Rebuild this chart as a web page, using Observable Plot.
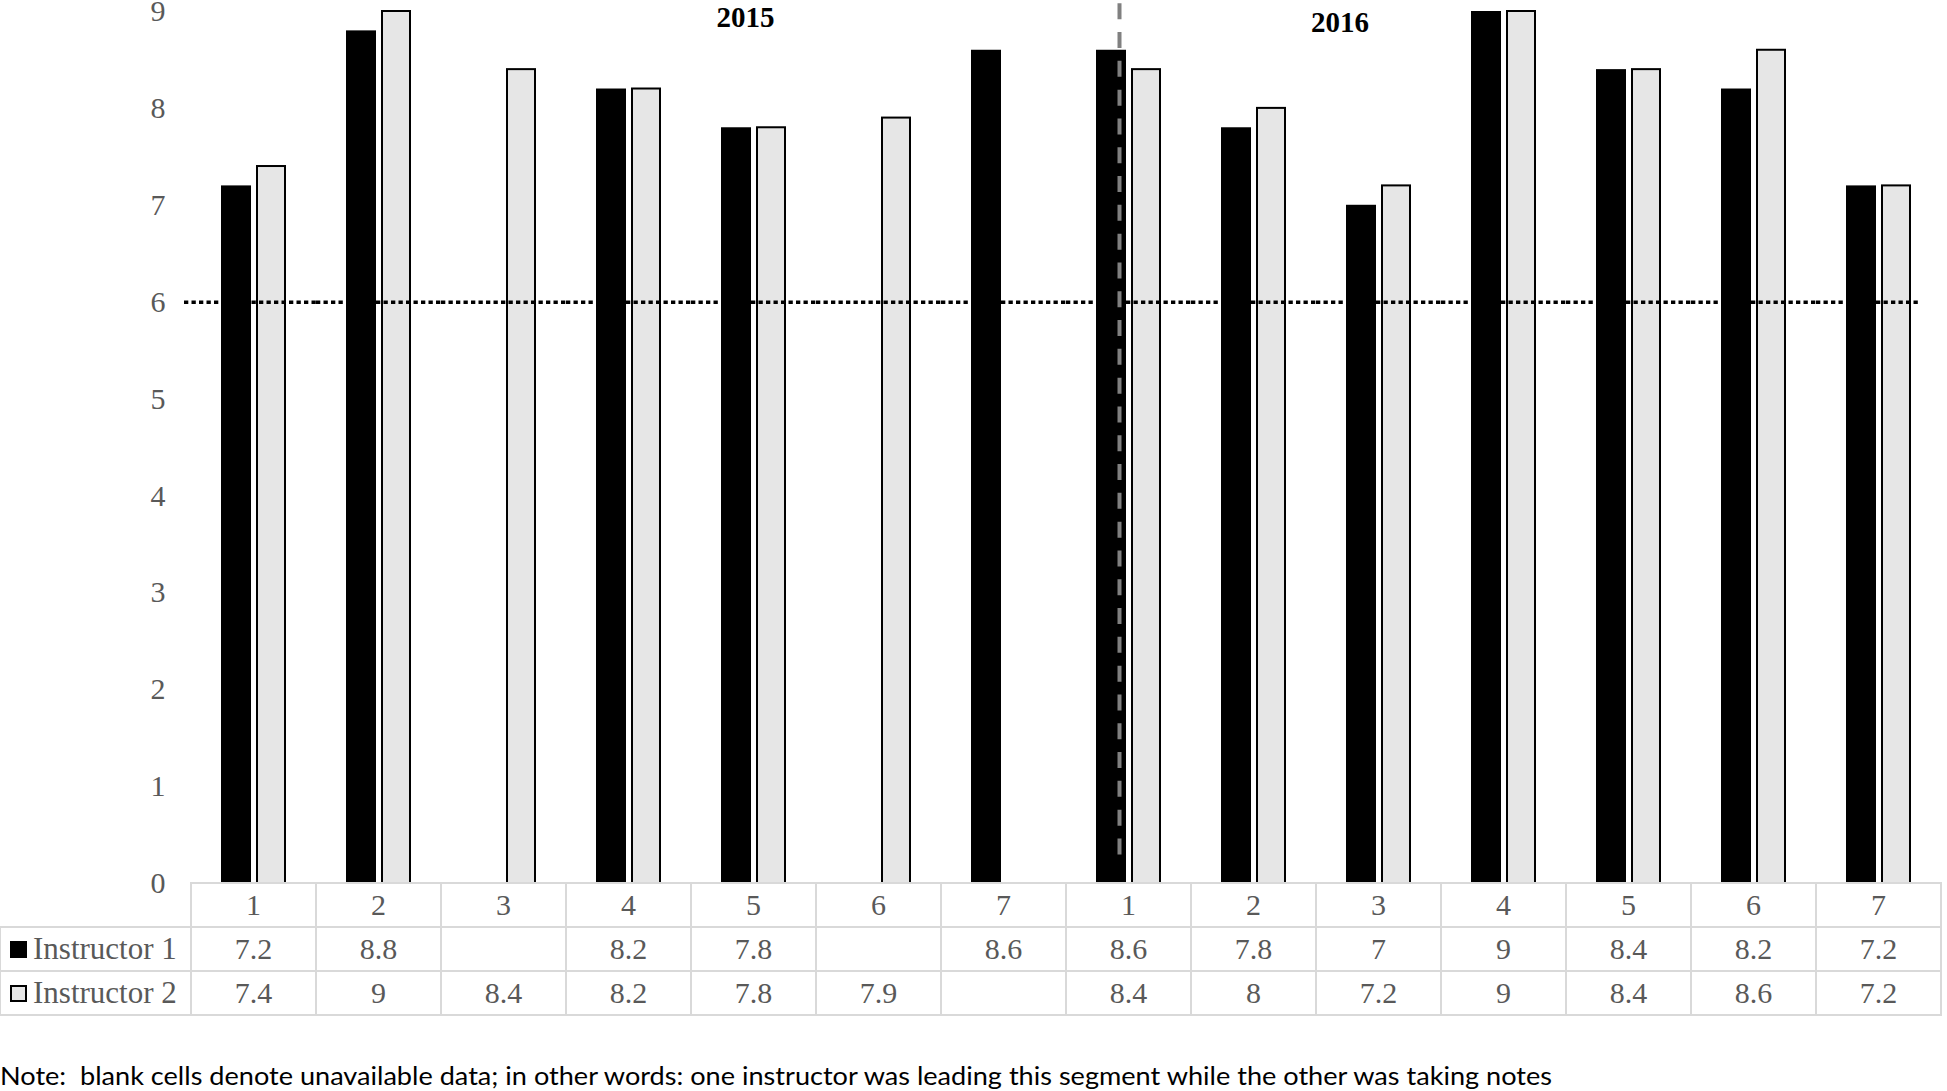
<!DOCTYPE html>
<html><head><meta charset="utf-8">
<script src="https://cdn.jsdelivr.net/npm/d3@7"></script>
<script src="https://cdn.jsdelivr.net/npm/@observablehq/plot@0.6"></script>
<style>
body{margin:0;background:#fff;}
#wrap{position:relative;width:1947px;height:1091px;overflow:hidden;background:#fff;}
#wrap svg{position:absolute;left:0;top:0;}
.cell{position:absolute;box-sizing:border-box;border:2px solid #d9d9d9;display:flex;align-items:center;justify-content:center;font-family:"Liberation Serif",serif;font-size:30px;color:#595959;background:#fff;}
.lab{justify-content:flex-start;padding-left:9px;font-size:31px;}
.sw{display:inline-block;width:17px;height:17px;box-sizing:border-box;margin-right:6px;}
#note{position:absolute;left:0;top:1060px;font-family:"Lato",sans-serif;font-size:25px;color:#000;white-space:pre;transform-origin:0 0;}
</style></head><body><div id="wrap"></div>
<script>
// ---- data ----
const years = ["2015", "2016"];
const sessions = ["1", "2", "3", "4", "5", "6", "7"];
const seriesNames = ["Instructor 1", "Instructor 2"];
const instructor1 = [7.2, 8.8, null, 8.2, 7.8, null, 8.6, 8.6, 7.8, 7, 9, 8.4, 8.2, 7.2];
const instructor2 = [7.4, 9, 8.4, 8.2, 7.8, 7.9, null, 8.4, 8, 7.2, 9, 8.4, 8.6, 7.2];
const yTicks = [0, 1, 2, 3, 4, 5, 6, 7, 8, 9];
const threshold = 6;
const yearLabels = ["2015", "2016"];
const yearLabelSession = ["5", "3"];
const yearLabelY = [8.94, 8.88];
const dividerAt = ["2016", "1"];
const dividerY = [9.08, 0.29];
const noteText = "Note:  blank cells denote unavailable data; in other words: one instructor was leading this segment while the other was taking notes";

// ---- derived tables ----
const keys = years.flatMap(y => sessions.map(s => `${y}-${s}`));
const sessionOf = k => k.split("-")[1];
const rows1 = keys.map((k, i) => ({key: k, series: seriesNames[0], value: instructor1[i]}));
const rows2 = keys.map((k, i) => ({key: k, series: seriesNames[1], value: instructor2[i]}));
const yearRows = yearLabels.map((t, i) => ({key: `${years[i]}-${yearLabelSession[i]}`, series: seriesNames[0], text: t, y: yearLabelY[i]}));
const dividerRows = [{key: `${dividerAt[0]}-${dividerAt[1]}`, series: seriesNames[0]}];
const thrRows = keys.map(k => ({key: k, y: threshold}));
const dotted = {fx: "key", y: "y", stroke: "black", strokeWidth: 3.5, strokeDasharray: "4.3,3.2"};
const yearStyle = {fx: "key", x: "series", y: "y", text: "text", fill: "black", fontWeight: "bold", fontSize: 29, fontFamily: "Liberation Serif, serif"};

const plot = Plot.plot({
  width: 1947,
  height: 1091,
  marginLeft: 186,
  marginRight: 1,
  marginTop: 11,
  marginBottom: 208,
  style: {fontFamily: "Liberation Serif, serif", fontSize: "30px", color: "#595959", background: "transparent", overflow: "visible"},
  fx: {domain: keys, padding: 0, axis: null},
  x: {domain: seriesNames, paddingInner: 0.15, paddingOuter: 0.854, axis: null},
  y: {domain: [0, 9], ticks: yTicks, tickSize: 0, tickPadding: 26, label: null, tickFormat: d3.format("d")},
  marks: [
    Plot.barY(rows1, {fx: "key", x: "series", y: "value", fill: "black"}),
    Plot.barY(rows2, {fx: "key", x: "series", y: "value", fill: "#e6e6e6", stroke: "black", strokeWidth: 2, insetLeft: 1, insetRight: 1}),
    Plot.ruleY(thrRows.slice(0, 1), {...dotted, insetLeft: -7}),
    Plot.ruleY(thrRows.slice(1, -1), dotted),
    Plot.ruleY(thrRows.slice(-1), {...dotted, insetRight: 20}),
    Plot.ruleX(dividerRows, {fx: "key", x: "series", y1: dividerY[0], y2: dividerY[1], dx: 8, stroke: "#808080", strokeWidth: 4, strokeDasharray: "16,12.8"}),
    Plot.text(yearRows.slice(0, 1), {...yearStyle, dx: 9}),
    Plot.text(yearRows.slice(1), {...yearStyle, dx: -21.5})
  ]
});

const wrap = document.getElementById("wrap");
wrap.appendChild(plot);

// ---- data table below the chart, aligned on the fx scale ----
const fxS = plot.scale("fx");
const yS = plot.scale("y");
const bw = fxS.bandwidth;
const top0 = yS.apply(0);
const rowH = 44;
const left0 = fxS.apply(keys[0]);
function cell(x, y, w, h, html, cls) {
  const d = document.createElement("div");
  d.className = "cell" + (cls ? " " + cls : "");
  d.style.left = (x - 1) + "px";
  d.style.top = (y - 1) + "px";
  d.style.width = (w + 2) + "px";
  d.style.height = (h + 2) + "px";
  d.innerHTML = html;
  wrap.appendChild(d);
}
const fmt = v => (v == null ? "" : String(v));
keys.forEach((k, i) => {
  const x = fxS.apply(k);
  cell(x, top0, bw, rowH, sessionOf(k));
  cell(x, top0 + rowH, bw, rowH, fmt(instructor1[i]));
  cell(x, top0 + 2 * rowH, bw, rowH, fmt(instructor2[i]));
});
cell(0, top0 + rowH, left0, rowH, `<span class="sw" style="background:#000"></span>${seriesNames[0]}`, "lab");
cell(0, top0 + 2 * rowH, left0, rowH, `<span class="sw" style="background:#e6e6e6;border:2px solid #000"></span>${seriesNames[1]}`, "lab");

const note = document.createElement("div");
note.id = "note";
note.textContent = noteText;
wrap.appendChild(note);
const nw = note.getBoundingClientRect().width;
note.style.transform = `scaleX(${1552 / nw})`;
</script>
</body></html>
